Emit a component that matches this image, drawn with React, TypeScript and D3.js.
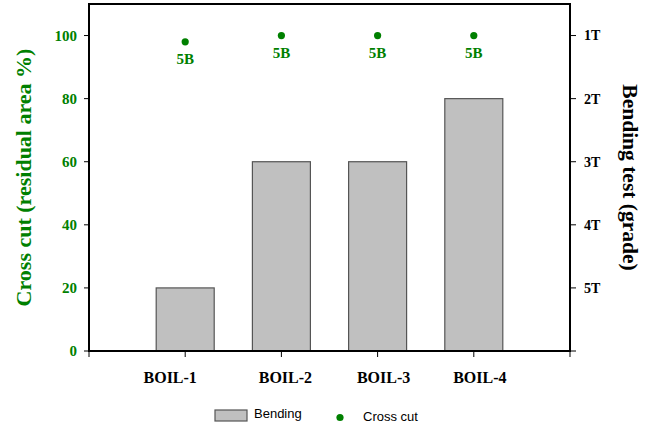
import React from "react";
import * as d3 from "d3";

const categories = ["BOIL-1", "BOIL-2", "BOIL-3", "BOIL-4"];
// Bending grade expressed on the shared 0–110 scale (1T = 100 … 5T = 20)
const bendingValues = [20, 60, 60, 80];
// Cross-cut residual area (%)
const crossCutValues = [98, 100, 100, 100];
const crossCutLabels = ["5B", "5B", "5B", "5B"];
const leftTicks = [0, 20, 40, 60, 80, 100];
const rightTickValues = [100, 80, 60, 40, 20, 0];
const rightTickLabels = ["1T", "2T", "3T", "4T", "5T", ""];

const W = 649;
const H = 428;
const plot = { left: 89, right: 570, top: 4, bottom: 351 };
const GREEN = "#008000";
const SERIF = "'Liberation Serif', 'Times New Roman', serif";
const SANS = "'Liberation Sans', Arial, sans-serif";
// horizontal nudges of the category labels relative to their ticks
const labelNudge = [-15, 4, 6, 6];

export default function App() {
  const x = d3.scaleLinear().domain([0, 5]).range([plot.left, plot.right]);
  const y = d3.scaleLinear().domain([0, 110]).range([plot.bottom, plot.top]);
  const barW = 58;
  const xTicks = [0, 1, 2, 3, 4, 5];

  return (
    <svg
      width={W}
      height={H}
      style={{ position: "absolute", left: 0, top: 0, background: "#fff" }}
    >
      {/* bars */}
      {bendingValues.map((v, i) => (
        <rect
          key={categories[i]}
          x={x(i + 1) - barW / 2}
          y={y(v)}
          width={barW}
          height={y(0) - y(v)}
          fill="#c0c0c0"
          stroke="#555"
          strokeWidth={1.2}
        />
      ))}

      {/* frame */}
      <rect
        x={plot.left}
        y={plot.top}
        width={plot.right - plot.left}
        height={plot.bottom - plot.top}
        fill="none"
        stroke="#000"
        strokeWidth={2}
      />

      {/* left axis */}
      {leftTicks.map((t) => (
        <g key={"l" + t}>
          <line x1={plot.left - 5} x2={plot.left} y1={y(t)} y2={y(t)} stroke="#000" strokeWidth={1} />
          <text
            x={plot.left - 12}
            y={y(t)}
            dy="0.35em"
            textAnchor="end"
            fontFamily={SERIF}
            fontWeight="bold"
            fontSize={15}
            fill={GREEN}
          >
            {t}
          </text>
        </g>
      ))}
      <text
        transform={`translate(23, ${(plot.top + plot.bottom) / 2}) rotate(-90)`}
        textAnchor="middle"
        dy="0.35em"
        fontFamily={SERIF}
        fontWeight="bold"
        fontSize={22}
        fill={GREEN}
      >
        Cross cut (residual area %)
      </text>

      {/* right axis */}
      {rightTickValues.map((t, i) => (
        <g key={"r" + t}>
          <line x1={plot.right} x2={plot.right + 6} y1={y(t)} y2={y(t)} stroke="#000" strokeWidth={1} />
          <text
            x={plot.right + 14}
            y={y(t)}
            dy="0.35em"
            fontFamily={SERIF}
            fontWeight="bold"
            fontSize={14}
            fill="#000"
          >
            {rightTickLabels[i]}
          </text>
        </g>
      ))}
      <text
        transform={`translate(631, ${(plot.top + plot.bottom) / 2}) rotate(90)`}
        textAnchor="middle"
        dy="0.35em"
        fontFamily={SERIF}
        fontWeight="bold"
        fontSize={21.5}
        fill="#000"
      >
        Bending test (grade)
      </text>

      {/* bottom axis */}
      {xTicks.map((t) => (
        <line key={"x" + t} x1={x(t)} x2={x(t)} y1={plot.bottom} y2={plot.bottom + 6} stroke="#000" strokeWidth={1} />
      ))}
      {categories.map((c, i) => (
        <text
          key={c}
          x={x(i + 1) + labelNudge[i]}
          y={377}
          dy="0.35em"
          textAnchor="middle"
          fontFamily={SERIF}
          fontWeight="bold"
          fontSize={16}
          fill="#000"
        >
          {c}
        </text>
      ))}

      {/* cross-cut points */}
      {crossCutValues.map((v, i) => (
        <g key={"p" + i}>
          <circle cx={x(i + 1)} cy={y(v)} r={3.6} fill={GREEN} />
          <text
            x={x(i + 1)}
            y={y(v) + 17}
            dy="0.35em"
            textAnchor="middle"
            fontFamily={SERIF}
            fontWeight="bold"
            fontSize={15}
            fill={GREEN}
          >
            {crossCutLabels[i]}
          </text>
        </g>
      ))}

      {/* legend */}
      <rect x={215} y={410} width={32} height={11} fill="#c0c0c0" stroke="#555" strokeWidth={1.2} />
      <text x={254} y={418} fontFamily={SANS} fontSize={13} fill="#000">
        Bending
      </text>
      <circle cx={340} cy={417.5} r={3.6} fill={GREEN} />
      <text x={363} y={421} fontFamily={SANS} fontSize={13} fill="#000">
        Cross cut
      </text>
    </svg>
  );
}
